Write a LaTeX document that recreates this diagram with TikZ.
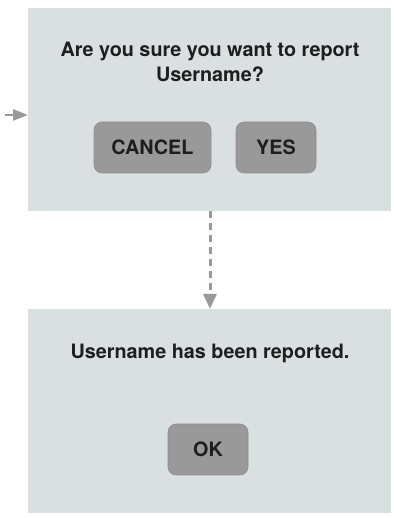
\documentclass[tikz,border=0pt]{standalone}
\usepackage{fontspec}
\setmainfont{TeX Gyre Heros}
\usetikzlibrary{arrows.meta}
\definecolor{panel}{HTML}{DADFE1}
\definecolor{btn}{HTML}{999999}
\definecolor{btnline}{HTML}{8E8E8E}
\definecolor{txt}{HTML}{1E1E1E}
\definecolor{arr}{HTML}{999999}
\tikzset{
  panelbox/.style={fill=panel, draw=none},
  button/.style={fill=btn, draw=btnline, line width=0.6pt, rounded corners=8pt, inner sep=0pt, font=\fontsize{19.8}{23}\selectfont\bfseries, text=txt},
  msg/.style={font=\fontsize{19.8}{25}\selectfont\bfseries, text=txt, align=center, inner sep=0pt},
  conn/.style={draw=arr, line width=3pt, -{Triangle[length=15pt,width=13pt]}}
}
\begin{document}
\begin{tikzpicture}[x=1pt,y=1pt]
\useasboundingbox (0,0) rectangle (393,518);
% top panel
\node[panelbox, minimum width=363pt, minimum height=203pt, inner sep=0pt, anchor=north west] (top) at (28,510) {};
\node[msg] (q) at (210,456) {Are you sure you want to report\\Username?};
\node[button, minimum width=117pt, minimum height=51pt] (cancel) at (152.5,370.5) {CANCEL};
\node[button, minimum width=80pt, minimum height=51pt] (yes) at (276,370.5) {YES};
% bottom panel
\node[panelbox, minimum width=363pt, minimum height=204pt, inner sep=0pt, anchor=north west] (bot) at (28,209) {};
\node[msg] (done) at (210,165) {Username has been reported.};
\node[button, minimum width=80pt, minimum height=51pt] (ok) at (208,68.5) {OK};
% connectors
\coordinate (src) at (5,403);
\draw[draw=arr, line width=2.6pt, -{Triangle[length=15pt,width=11pt]}] (src) -- (top.west |- src);
\draw[conn, dash pattern=on 7pt off 5pt] (top.south -| 210,0) -- (bot.north -| 210,0);
\end{tikzpicture}
\end{document}
